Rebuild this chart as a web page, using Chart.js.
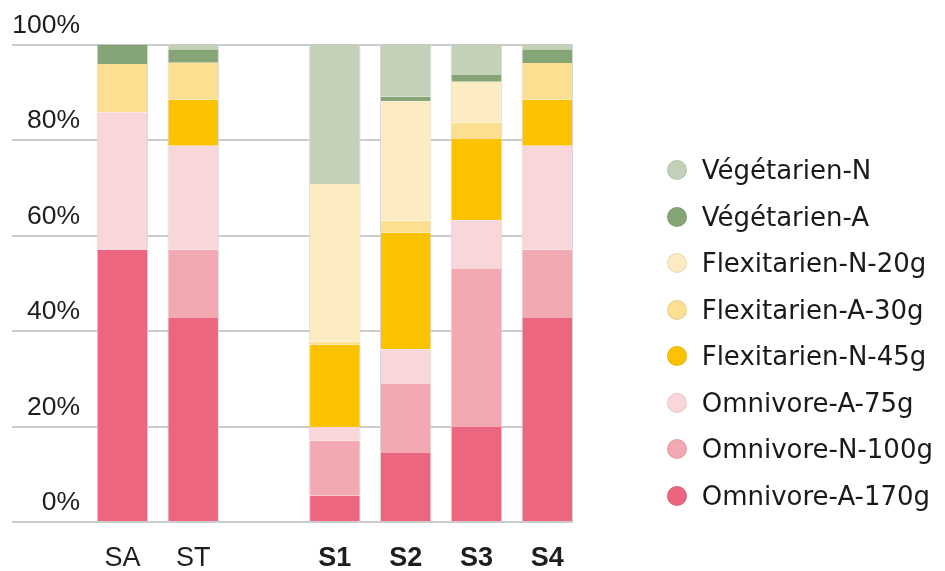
<!DOCTYPE html>
<html>
<head>
<meta charset="utf-8">
<script src="https://cdn.jsdelivr.net/npm/chart.js@4/dist/chart.umd.min.js"></script>
<style>
  html, body { margin: 0; padding: 0; background: #ffffff; }
  #wrap { position: relative; width: 945px; height: 571px; }
  #legend {
    position: absolute; left: 666.7px; top: 146.75px; margin: 0; padding: 0; list-style: none;
    font-family: "DejaVu Sans", sans-serif; font-size: 26px; color: #1a1a1a;
  }
  #legend li { display: flex; align-items: center; height: 46.5px; white-space: nowrap; }
  #legend .dot {
    width: 20px; height: 20px; border-radius: 50%; box-sizing: border-box;
    border: 1px solid rgba(0, 0, 0, 0.08); margin-right: 15px; flex: none;
  }
</style>
</head>
<body>
<div id="wrap">
  <canvas id="chart" width="945" height="571"></canvas>
  <ul id="legend"></ul>
</div>
<script>
// Scenarios along the x axis; the empty slot separates the two groups.
const categories = ['SA', 'ST', '', 'S1', 'S2', 'S3', 'S4'];
const firstBoldCategory = 3;
const yTicks = [0, 20, 40, 60, 80, 100];

// Share of each diet (%), one value per category, stacked from the bottom up.
const omnivoreA170  = [57.0, 42.7, null,  5.5, 14.6, 19.9, 42.7];
const omnivoreN100  = [ 0.0, 14.3, null, 11.5, 14.3, 33.1, 14.3];
const omnivoreA75   = [28.8, 21.8, null,  2.9,  7.3, 10.2, 21.8];
const flexitarienN45 = [ 0.0,  9.7, null, 17.2, 24.4, 17.0,  9.7];
const flexitarienA30 = [10.1,  7.7, null,  0.7,  2.5,  3.4,  7.6];
const flexitarienN20 = [ 0.0,  0.0, null, 33.0, 25.0,  8.6,  0.0];
const vegetarienA   = [ 4.1,  2.8, null,  0.0,  1.0,  1.4,  2.9];
const vegetarienN   = [ 0.0,  1.0, null, 29.2, 10.9,  6.4,  1.0];

const seriesNames = [
  'Omnivore-A-170g', 'Omnivore-N-100g', 'Omnivore-A-75g', 'Flexitarien-N-45g',
  'Flexitarien-A-30g', 'Flexitarien-N-20g', 'Végétarien-A', 'Végétarien-N'
];
const seriesValues = [
  omnivoreA170, omnivoreN100, omnivoreA75, flexitarienN45,
  flexitarienA30, flexitarienN20, vegetarienA, vegetarienN
];
const seriesColors = [
  '#ec6680', '#f2a9b1', '#f9d6da', '#fbc200',
  '#fddf92', '#fdecc2', '#86a577', '#c2d1b8'
];

const datasets = seriesNames.map((name, i) => ({
  label: name,
  data: seriesValues[i],
  backgroundColor: seriesColors[i],
  borderColor: '#d6d6d6',
  borderWidth: { left: 1, right: 1, top: 0, bottom: 0 },
  borderSkipped: false,
  barPercentage: 1,
  categoryPercentage: 0.726
}));

const gridColor = '#cccccc';

const chart = new Chart(document.getElementById('chart'), {
  type: 'bar',
  data: {
    labels: categories.map((_, i) => i),
    datasets
  },
  options: {
    responsive: false,
    devicePixelRatio: 1,
    animation: false,
    layout: { padding: { left: 0, top: 44.5, right: 372, bottom: 0 } },
    plugins: {
      legend: { display: false },
      tooltip: { enabled: false }
    },
    scales: {
      x: {
        type: 'linear',
        stacked: true,
        offset: false,
        min: -0.5,
        max: 6.363,
        grid: { display: false, drawTicks: false, offset: false },
        border: { display: false },
        afterFit: (s) => { s.height = 49; },
        ticks: {
          stepSize: 1,
          includeBounds: false,
          autoSkip: false,
          maxRotation: 0,
          padding: 20,
          color: '#1e1e1e',
          font: (c) => ({
            family: '"Liberation Sans", Arial, sans-serif',
            size: 27,
            weight: (c.tick && c.tick.value >= firstBoldCategory) ? 'bold' : 'normal'
          }),
          callback: (v) => categories[v] !== undefined ? categories[v] : ''
        }
      },
      y: {
        stacked: true,
        min: yTicks[0],
        max: yTicks[yTicks.length - 1],
        afterFit: (s) => { s.width = 87; },
        afterBuildTicks: (s) => { s.ticks = yTicks.map(v => ({ value: v })); },
        grid: {
          color: gridColor,
          lineWidth: 2,
          tickLength: 75,
          tickColor: gridColor,
          tickWidth: 2
        },
        border: { display: false },
        ticks: {
          padding: -68,
          labelOffset: -19,
          color: '#1e1e1e',
          font: { family: '"Liberation Sans", Arial, sans-serif', size: 26.5 },
          callback: (v) => v + '%'
        }
      }
    }
  }
});

// Legend listed top-down in the same order as the stack is seen (top series first).
const legendEl = document.getElementById('legend');
chart.data.datasets.slice().reverse().forEach((ds) => {
  const li = document.createElement('li');
  const dot = document.createElement('span');
  dot.className = 'dot';
  dot.style.background = ds.backgroundColor;
  const txt = document.createElement('span');
  txt.textContent = ds.label;
  li.appendChild(dot);
  li.appendChild(txt);
  legendEl.appendChild(li);
});
</script>
</body>
</html>
